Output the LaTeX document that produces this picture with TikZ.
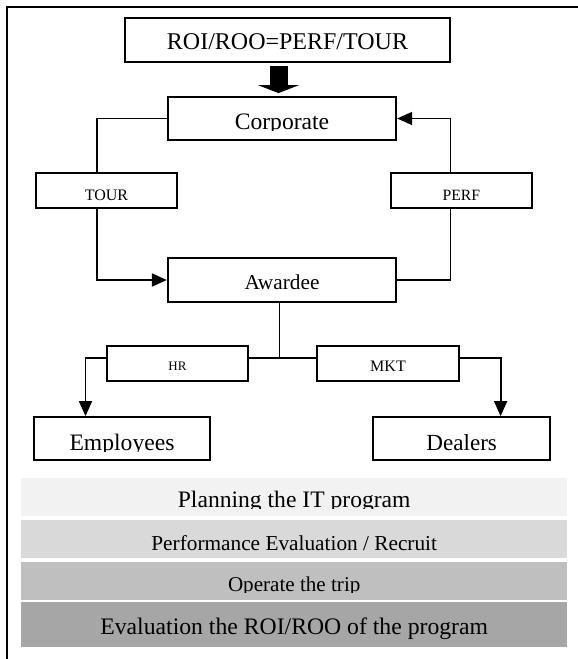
\documentclass[tikz,border=0pt]{standalone}
\usepackage{fontspec}
\setmainfont{Liberation Serif}
\usetikzlibrary{arrows.meta}
\begin{document}
\begin{tikzpicture}[x=1pt,y=-1pt,
  box/.style={draw, line width=1.8pt, inner sep=0pt, fill=white},
  lbl/.style={anchor=base, inner sep=0pt},
  conn/.style={line width=1.8pt},
  arr/.style={conn, -{Triangle[length=15pt,width=13pt]}},
  blockarrow/.style={line width=18pt, -{Triangle[length=8pt,width=41pt]}},
  band/.style={inner sep=0pt, minimum width=545.5pt},
]
\useasboundingbox (0,0) rectangle (578,659);
% outer frame
\draw[line width=2pt] (6.6,659) -- (6.6,7.4) -- (578,7.4);

% boxes
\node[box, minimum width=324.4pt, minimum height=44pt] (roi) at (287.5,40) {};
\node[box, minimum width=228.5pt, minimum height=43pt] (corp) at (282,118.5) {};
\node[box, minimum width=141.1pt, minimum height=35pt] (tour) at (106.4,190.5) {};
\node[box, minimum width=141.2pt, minimum height=35pt] (perf) at (461.3,190.5) {};
\node[box, minimum width=228.5pt, minimum height=44pt] (awd) at (282,280) {};
\node[box, minimum width=141.2pt, minimum height=35pt] (hr) at (177.5,363.2) {};
\node[box, minimum width=141.9pt, minimum height=35pt] (mkt) at (388,363.2) {};
\node[box, minimum width=176.2pt, minimum height=43pt] (emp) at (122,438.5) {};
\node[box, minimum width=177.3pt, minimum height=43pt] (deal) at (461.7,438.5) {};

% labels
\node[lbl, font=\fontsize{24}{28}\selectfont] (troi) at (287.5,49.5) {ROI/ROO=PERF/TOUR};
\begin{scope}
  \clip (168,97) rectangle (396,130.3);
  \node[lbl, font=\fontsize{23.6}{28}\selectfont] (tcorp) at (282,129.5) {Corporate};
\end{scope}
\node[lbl, font=\fontsize{16}{19}\selectfont] (ttour) at (106.4,200) {TOUR};
\node[lbl, font=\fontsize{15.7}{19}\selectfont] (tperf) at (461.3,200) {PERF};
\node[lbl, font=\fontsize{21.3}{25}\selectfont] (tawd) at (282,289) {Awardee};
\node[lbl, font=\fontsize{13}{16}\selectfont] (thr) at (177.5,370) {HR};
\node[lbl, font=\fontsize{16}{19}\selectfont] (tmkt) at (388,371) {MKT};
\begin{scope}
  \clip (34,417) rectangle (210,451);
  \node[lbl, font=\fontsize{23.6}{28}\selectfont] (temp) at (122,450) {Employees};
\end{scope}
\node[lbl, font=\fontsize{23.1}{28}\selectfont] (tdeal) at (461.7,450) {Dealers};

% block arrow
\coordinate (ba) at (278.5,0);
\draw[blockarrow, shorten <=3pt, shorten >=3pt] (ba |- roi.south) -- (ba |- corp.north);

% connectors
\coordinate (tl) at (96.9,0);
\coordinate (pl) at (450.4,0);
\coordinate (j) at (279.4,358);
\coordinate (hl) at (85.5,358);
\coordinate (ml) at (500.6,358);
\draw[conn] (corp.west) -| (tl |- tour.north);
\draw[arr] (tl |- tour.south) |- (awd.west);
\draw[arr] (pl |- perf.north) |- (corp.east);
\draw[conn] (awd.east) -| (pl |- perf.south);
\draw[conn] (awd.south -| j) -- (j);
\draw[conn] (hr.east |- j) -- (mkt.west |- j);
\draw[arr] (hr.west |- j) -| (hl |- emp.north);
\draw[arr] (mkt.east |- j) -| (ml |- deal.north);

% bands
\node[band, fill={rgb,255:red,242;green,242;blue,242}, minimum height=38pt] (b1) at (294.2,497.2) {};
\node[band, fill={rgb,255:red,217;green,217;blue,217}, minimum height=37.7pt] (b2) at (294.2,538.9) {};
\node[band, fill={rgb,255:red,191;green,191;blue,191}, minimum height=37.7pt] (b3) at (294.2,581.2) {};
\node[band, fill={rgb,255:red,166;green,166;blue,166}, minimum height=44.4pt] (b4) at (294.2,624.5) {};
\begin{scope}
  \clip (21.4,478.2) rectangle (566.9,508.3);
  \node[lbl, font=\fontsize{23.6}{28}\selectfont] (tb1) at (294.2,507.8) {Planning the IT program};
\end{scope}
\node[lbl, font=\fontsize{21.3}{25}\selectfont] (tb2) at (294.2,550) {Performance Evaluation / Recruit};
\begin{scope}
  \clip (21.4,562.3) rectangle (566.9,592);
  \node[lbl, font=\fontsize{21.1}{25}\selectfont] (tb3) at (294.2,591.5) {Operate the trip};
\end{scope}
\node[lbl, font=\fontsize{23.7}{28}\selectfont] (tb4) at (294.2,634) {Evaluation the ROI/ROO of the program};
\end{tikzpicture}
\end{document}
